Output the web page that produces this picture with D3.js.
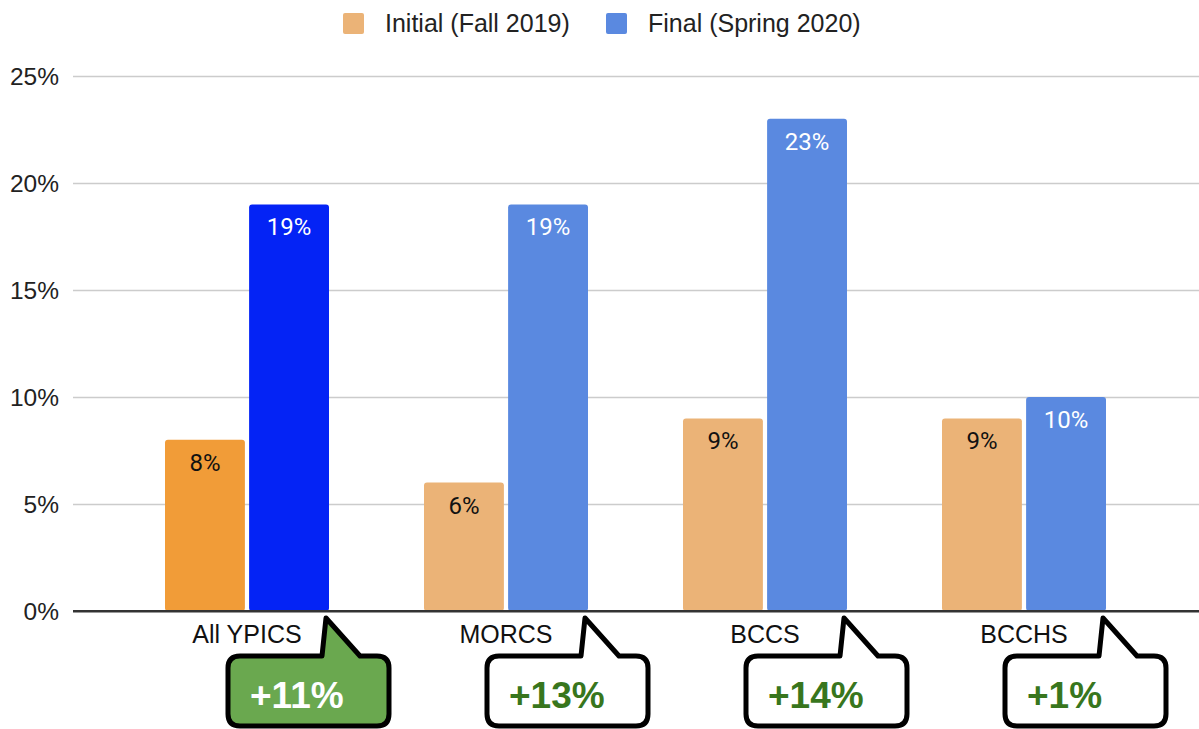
<!DOCTYPE html>
<html>
<head>
<meta charset="utf-8">
<script src="https://cdn.jsdelivr.net/npm/d3@7"></script>
<style>
  body { margin: 0; background: #fff; }
  svg { display: block; font-family: "Liberation Sans", Arial, sans-serif; }
</style>
</head>
<body>
<div id="chart"></div>
<script>
const categories = ['All YPICS', 'MORCS', 'BCCS', 'BCCHS'];
const seriesNames = ['Initial (Fall 2019)', 'Final (Spring 2020)'];
const initialValues = [0.08, 0.06, 0.09, 0.09];
const finalValues = [0.19, 0.19, 0.23, 0.10];
const yTicks = [0, 0.05, 0.10, 0.15, 0.20, 0.25];

const width = 1199, height = 729;

const svg = d3.select('#chart')
    .append('svg')
    .attr('width', width)
    .attr('height', height);

const y = d3.scaleLinear().domain([0, 0.25]).range([611, 76]);

const x0 = d3.scaleBand()
    .domain(categories)
    .range([117.5, 1153.5])
    .paddingInner(0.3668)
    .paddingOuter(0.1834);

const x1 = d3.scaleBand()
    .domain(seriesNames)
    .range([0, x0.bandwidth()])
    .paddingInner(0.05);

// first group is highlighted with stronger colours
const colors = {
    normal: ['#ebb377', '#5a89e0'],
    highlight: ['#f19c38', '#0423f5']
};

// grid
const yAxis = svg.append('g')
    .attr('transform', 'translate(73,0)')
    .call(d3.axisLeft(y).tickValues(yTicks).tickSize(-(width - 73)).tickFormat(d3.format('.0%')));
yAxis.select('.domain').remove();
yAxis.selectAll('.tick line')
    .attr('stroke', d => d === 0 ? '#333' : '#ccc')
    .attr('stroke-width', d => d === 0 ? 2 : 1.5);
yAxis.selectAll('.tick text')
    .attr('x', -14)
    .attr('dy', '0.36em')
    .attr('font-size', 24.5)
    .attr('font-family', '"Liberation Sans", Arial, sans-serif')
    .attr('fill', '#222');

const rows = categories.map((c, i) => ({
    cat: c,
    i: i,
    vals: [initialValues[i], finalValues[i]]
}));

const groups = svg.append('g')
    .selectAll('g')
    .data(rows)
    .join('g')
    .attr('transform', d => `translate(${x0(d.cat)},0)`);

const bars = groups.selectAll('g')
    .data(d => d.vals.map((v, k) => ({ v: v, k: k, gi: d.i })))
    .join('g');

bars.append('rect')
    .attr('x', d => x1(seriesNames[d.k]))
    .attr('y', d => y(d.v))
    .attr('width', x1.bandwidth())
    .attr('height', d => y(0) - y(d.v))
    .attr('rx', 3)
    .attr('fill', d => (d.gi === 0 ? colors.highlight : colors.normal)[d.k]);

bars.append('text')
    .text(d => Math.round(d.v * 100) + '%')
    .attr('x', d => x1(seriesNames[d.k]) + x1.bandwidth() / 2)
    .attr('y', d => y(d.v) + 31)
    .attr('text-anchor', 'middle')
    .attr('font-family', 'Roboto, sans-serif')
    .attr('font-size', 24)
    .attr('fill', d => d.k === 0 ? '#111' : '#fff');

// redraw baseline over bars
svg.append('line')
    .attr('x1', 73).attr('x2', width)
    .attr('y1', y(0)).attr('y2', y(0))
    .attr('stroke', '#333').attr('stroke-width', 2);

// category labels
svg.append('g')
    .selectAll('text')
    .data(categories)
    .join('text')
    .text(d => d)
    .attr('x', d => x0(d) + x0.bandwidth() / 2)
    .attr('y', 643)
    .attr('text-anchor', 'middle')
    .attr('font-size', 25)
    .attr('fill', '#111');

// legend
const legend = svg.append('g');
const legendX = [343, 606];
seriesNames.forEach((name, k) => {
    legend.append('rect')
        .attr('x', legendX[k]).attr('y', 13)
        .attr('width', 21).attr('height', 21)
        .attr('rx', 2)
        .attr('fill', colors.normal[k]);
    legend.append('text')
        .text(name)
        .attr('x', legendX[k] + 42)
        .attr('y', 32)
        .attr('font-size', 25)
        .attr('fill', '#222');
});

// speech-bubble callouts with the change
const bubbleW = 161, radius = 12, bubbleTop = 656, tipY = 618;
function bubblePath(tipX) {
    const left = tipX - 98, right = left + bubbleW, bottom = 726;
    return `M${left + radius},${bubbleTop}` +
        `L${tipX - 4},${bubbleTop}L${tipX},${tipY}L${tipX + 34},${bubbleTop}` +
        `L${right - radius},${bubbleTop}Q${right},${bubbleTop} ${right},${bubbleTop + radius}` +
        `L${right},${bottom - radius}Q${right},${bottom} ${right - radius},${bottom}` +
        `L${left + radius},${bottom}Q${left},${bottom} ${left},${bottom - radius}` +
        `L${left},${bubbleTop + radius}Q${left},${bubbleTop} ${left + radius},${bubbleTop}Z`;
}

const callouts = svg.append('g')
    .selectAll('g')
    .data(rows)
    .join('g');

callouts.each(function (d) {
    const g = d3.select(this);
    const tipX = x0(d.cat) + x1(seriesNames[1]) + x1.bandwidth() - 3;
    g.append('path')
        .attr('d', bubblePath(tipX))
        .attr('fill', d.i === 0 ? '#6aa84f' : '#fff')
        .attr('stroke', '#000')
        .attr('stroke-width', 5)
        .attr('stroke-linejoin', 'round');
    const diff = Math.round((d.vals[1] - d.vals[0]) * 100);
    g.append('text')
        .text('+' + diff + '%')
        .attr('x', tipX - 98 + 22)
        .attr('y', 708)
        .attr('font-size', 37)
        .attr('font-weight', 'bold')
        .attr('fill', d.i === 0 ? '#fff' : '#38761d');
});
</script>
</body>
</html>
